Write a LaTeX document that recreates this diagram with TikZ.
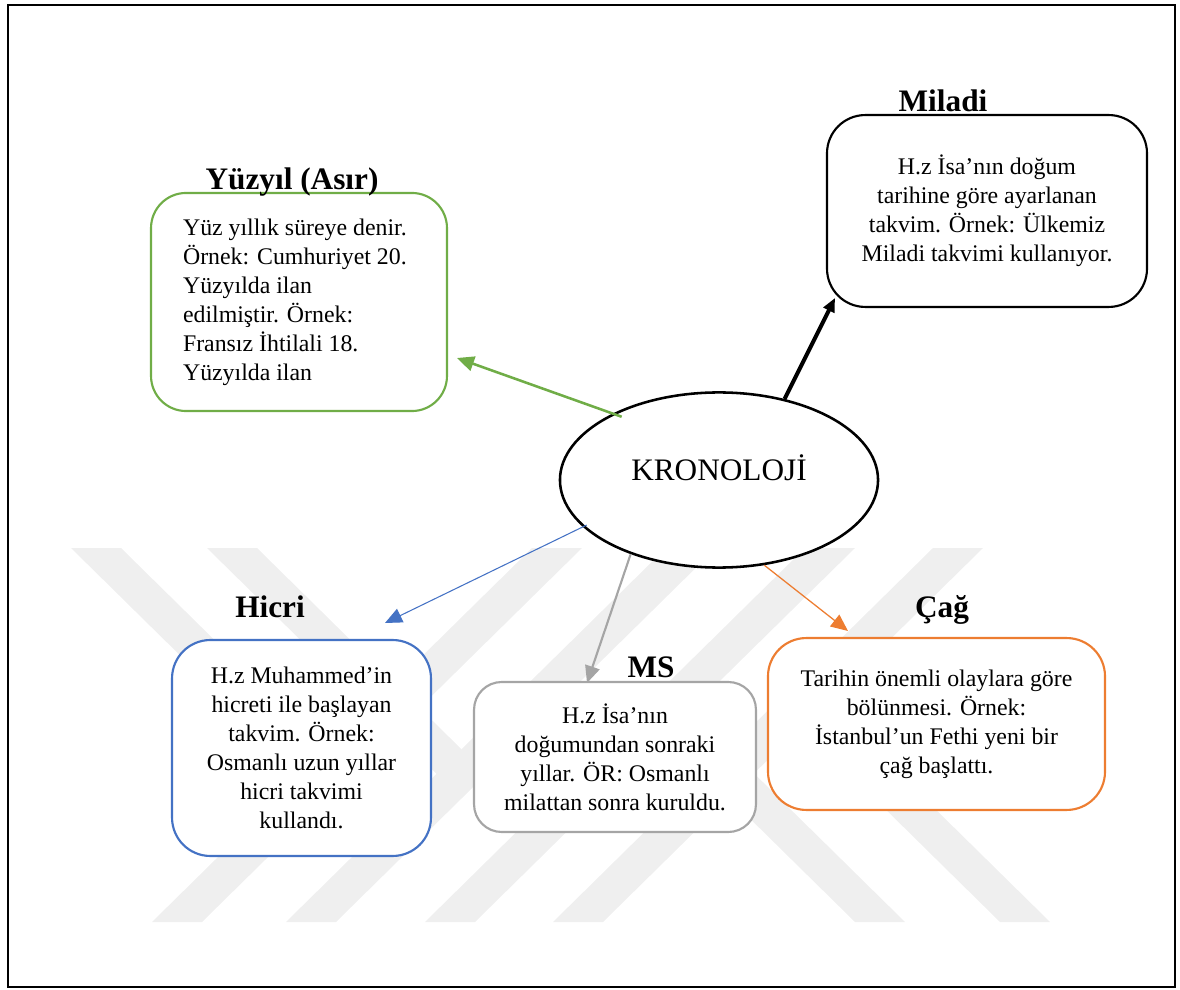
\documentclass[tikz,border=0pt]{standalone}
\usepackage{fontspec}
\setmainfont{Liberation Serif}
\usetikzlibrary{shapes,arrows.meta,positioning,calc}
\definecolor{kgreen}{HTML}{70AD47}
\definecolor{kblue}{HTML}{4472C4}
\definecolor{kgray}{HTML}{A5A5A5}
\definecolor{korange}{HTML}{ED7D31}
\definecolor{wmark}{HTML}{EFEFEF}

\begin{document}
\begin{tikzpicture}[x=0.47pt,y=-0.47pt,
    kutu/.style={draw,fill=white,line width=1pt,rounded corners=18pt,align=flush center,
      inner sep=0pt,font=\fontsize{11.2pt}{13.6pt}\selectfont},
    baslik/.style={anchor=base,inner sep=0pt,font=\bfseries\fontsize{14.7pt}{16pt}\selectfont},
    ok/.style={-{Triangle[length=8pt,width=7pt]}}]

      \useasboundingbox (0,0) rectangle (1180,990);

      \fill[wmark] (532,548) -- (582,548) -- (202,922) -- (152,922) -- cycle;
      \fill[wmark] (666,548) -- (716,548) -- (336,922) -- (286,922) -- cycle;
      \fill[wmark] (805,548) -- (855,548) -- (475,922) -- (425,922) -- cycle;
      \fill[wmark] (933,548) -- (983,548) -- (603,922) -- (553,922) -- cycle;
      \fill[wmark] (71,548) -- (121,548) -- (326.5,750.3) -- (326.5,799.5) -- cycle;
      \fill[wmark] (207,548) -- (257,548) -- (461.5,749.3) -- (461.5,798.5) -- cycle;
      \fill[wmark] (855,922) -- (905,922) -- (665,685.8) -- (665,735) -- cycle;
      \fill[wmark] (1000,922) -- (1050,922) -- (801.5,677.4) -- (801.5,726.6) -- cycle;

      \draw[line width=1pt] (8,5) rectangle (1175,987);

      \node[draw,fill=white,ellipse,line width=1.2pt,minimum width=149.5pt,minimum height=82.3pt,
        text height=10pt,text depth=10pt,font=\fontsize{14.7pt}{16pt}\selectfont] (kron) at (719,480) {KRONOLOJİ};

      \node[kutu,draw=kgreen,rounded corners=16.5pt,minimum width=139.1pt,minimum height=102.5pt,
        text width=109pt,align=flush left] (yuzyil) at (299,302)
        {Yüz yıllık süreye denir.\\ Örnek: Cumhuriyet 20.\\ Yüzyılda ilan\\ edilmiştir. Örnek:\\ Fransız İhtilali 18.\\ Yüzyılda ilan};
      \node[kutu,minimum width=150.4pt,minimum height=90.2pt] (miladi) at (987,211)
        {H.z İsa’nın doğum\\ tarihine göre ayarlanan\\ takvim. Örnek: Ülkemiz\\ Miladi takvimi kullanıyor.};
      \node[kutu,draw=kblue,minimum width=121.7pt,minimum height=101.5pt] (hicri) at (301.5,748)
        {H.z Muhammed’in\\ hicreti ile başlayan\\ takvim. Örnek:\\ Osmanlı uzun yıllar\\ hicri takvimi\\ kullandı.};
      \node[kutu,draw=kgray,rounded corners=13pt,minimum width=132.5pt,minimum height=70.5pt] (ms) at (615,757)
        {H.z İsa’nın\\ doğumundan sonraki\\ yıllar. ÖR: Osmanlı\\ milattan sonra kuruldu.};
      \node[kutu,draw=korange,minimum width=158.4pt,minimum height=80.8pt] (cag) at (936.5,724)
        {Tarihin önemli olaylara göre\\ bölünmesi. Örnek:\\ İstanbul’un Fethi yeni bir\\ çağ başlattı.};

      \node[baslik] (tyuzyil) at (292,190) {Yüzyıl (Asır)};
      \node[baslik] (tmiladi) at (943,112) {Miladi};
      \node[baslik] (thicri) at (270,617) {Hicri};
      \node[baslik] (tms) at (651,677) {MS};
      \node[baslik] (tcag) at (942,617) {Çağ};

      \coordinate (uyuzyil) at (457,358);
      \coordinate (umiladi) at (835,298);
      \coordinate (uhicri) at (385,623);
      \coordinate (ums) at (587,683);
      \coordinate (ucag) at (848,631);

      \draw[ok,kgreen,line width=1.2pt,shorten <=-4.5pt] (kron.148.3) -- (uyuzyil);
      \draw[ok,black,line width=1.9pt,-{Triangle[length=6.5pt,width=5.5pt]}] (kron.51.2) -- (umiladi);
      \draw[ok,kblue,line width=0.5pt,shorten <=-2pt] (kron.199.2) -- (uhicri);
      \draw[ok,kgray,line width=1pt] (kron.220.1) -- (ums);
      \draw[ok,korange,line width=0.6pt] (kron.298.1) -- (ucag);

    \end{tikzpicture}
\end{document}
